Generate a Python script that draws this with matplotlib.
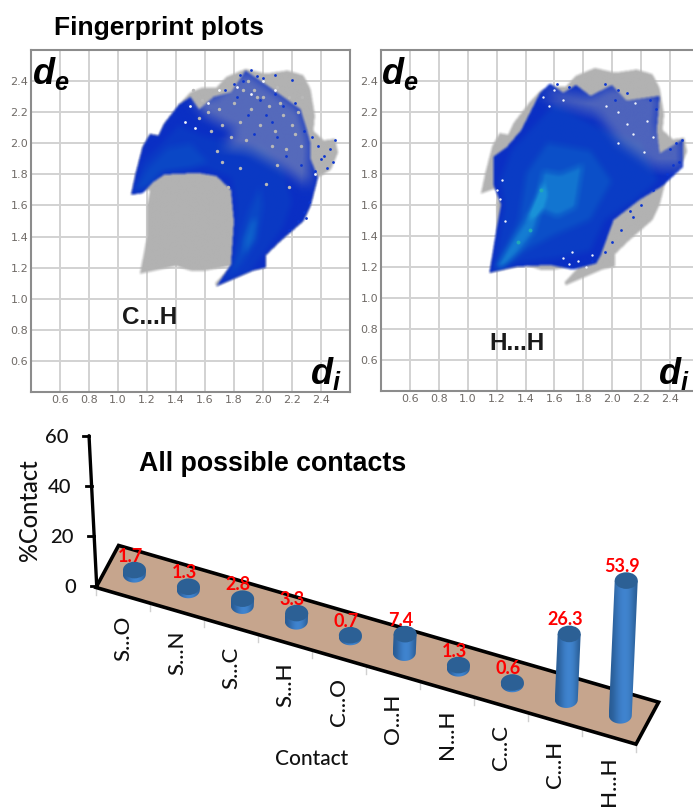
import numpy as np
import matplotlib
matplotlib.use('Agg')
from matplotlib import pyplot as plt
from matplotlib.colors import LinearSegmentedColormap, to_rgb
from matplotlib.path import Path
from matplotlib.patches import PathPatch, Ellipse, Polygon

# contact survey values
contacts = ['S...O', 'S...N', 'S...C', 'S...H', 'C...O', 'O...H', 'N...H', 'C...C', 'C...H', 'H...H']
percent = [1.7, 1.3, 2.8, 3.3, 0.7, 7.4, 1.3, 0.6, 26.3, 53.9]
percent_ticks = [0, 20, 40, 60]
fp_ticks = [0.6, 0.8, 1.0, 1.2, 1.4, 1.6, 1.8, 2.0, 2.2, 2.4]

# fingerprint regions as (di, de) outlines
full_x = [1.09, 1.12, 1.17, 1.22, 1.28, 1.32, 1.42, 1.50, 1.58, 1.68, 1.75, 1.88, 2.02, 2.17, 2.28, 2.33, 2.36, 2.35,
          2.42, 2.50, 2.52, 2.47, 2.38, 2.33, 2.28, 2.12, 2.02, 2.02, 1.93, 1.78, 1.68, 1.67, 1.78, 1.60, 1.50, 1.40,
          1.15, 1.20, 1.20, 1.22, 1.18]
full_y = [1.67, 1.80, 1.98, 2.06, 2.05, 2.13, 2.25, 2.33, 2.36, 2.36, 2.43, 2.48, 2.45, 2.47, 2.44, 2.35, 2.18, 2.08,
          2.02, 2.03, 1.94, 1.83, 1.78, 1.60, 1.50, 1.37, 1.28, 1.20, 1.18, 1.12, 1.08, 1.10, 1.21, 1.18, 1.18, 1.21,
          1.16, 1.40, 1.60, 1.70, 1.70]

ch_x = [1.09, 1.12, 1.17, 1.22, 1.28, 1.32, 1.42, 1.50, 1.56, 1.66, 1.78, 1.88, 2.02, 2.14, 2.26, 2.30, 2.33, 2.33, 2.38,
        2.33, 2.28, 2.12, 2.02, 2.02, 1.93, 1.78, 1.68, 1.78, 1.80, 1.78, 1.68, 1.55, 1.32, 1.24, 1.17]
ch_y = [1.67, 1.80, 1.98, 2.06, 2.05, 2.13, 2.25, 2.30, 2.22, 2.30, 2.33, 2.47, 2.38, 2.30, 2.22, 2.10, 2.00, 1.90, 1.78,
        1.60, 1.50, 1.37, 1.28, 1.20, 1.18, 1.12, 1.08, 1.22, 1.50, 1.70, 1.79, 1.81, 1.80, 1.75, 1.68]
ch_dense_x = [1.10, 1.17, 1.28, 1.42, 1.58, 1.80, 2.00, 2.14, 2.20, 2.14, 2.00, 1.90, 1.72, 1.80, 1.82, 1.78, 1.60, 1.32, 1.22]
ch_dense_y = [1.68, 1.88, 1.98, 2.12, 2.05, 2.00, 1.98, 1.85, 1.62, 1.46, 1.28, 1.16, 1.11, 1.25, 1.60, 1.78, 1.84, 1.82, 1.72]
ch_mid_x = [1.11, 1.20, 1.34, 1.50, 1.62, 1.50, 1.30, 1.20]
ch_mid_y = [1.69, 1.84, 1.97, 2.00, 1.88, 1.84, 1.81, 1.72]
ch_leg_x = [1.70, 1.85, 1.96, 2.00, 1.98, 1.90, 1.84, 1.78]
ch_leg_y = [1.10, 1.22, 1.38, 1.60, 1.72, 1.56, 1.36, 1.18]
ch_hot_x = [1.87, 1.94, 1.96, 1.92, 1.87]
ch_hot_y = [1.28, 1.38, 1.52, 1.50, 1.38]
ch_loose_x = [1.50, 1.66, 1.88, 2.02, 2.26, 2.33, 2.32, 2.14, 1.90, 1.72, 1.82, 1.60]
ch_loose_y = [2.30, 2.30, 2.47, 2.38, 2.22, 2.00, 1.72, 1.84, 1.96, 1.98, 2.08, 2.18]

hh_x = [1.15, 1.20, 1.23, 1.18, 1.18, 1.27, 1.37, 1.43, 1.50, 1.57, 1.66, 1.75, 1.85, 2.00, 2.10, 2.33, 2.31, 2.33,
        2.49, 2.49, 2.35, 2.19, 2.01, 1.92, 1.89, 1.73, 1.57, 1.34]
hh_y = [1.16, 1.45, 1.60, 1.72, 1.91, 1.97, 2.08, 2.19, 2.32, 2.38, 2.32, 2.37, 2.30, 2.37, 2.27, 2.30, 2.08, 1.93,
        2.02, 1.84, 1.72, 1.63, 1.50, 1.27, 1.22, 1.18, 1.21, 1.20]
hh_dense_x = [1.18, 1.25, 1.22, 1.30, 1.45, 1.60, 1.90, 2.20, 2.32, 2.15, 1.95, 1.85, 1.60, 1.35]
hh_dense_y = [1.18, 1.60, 1.75, 1.95, 2.10, 2.25, 2.10, 2.00, 1.75, 1.62, 1.50, 1.30, 1.25, 1.22]
hh_mid_x = [1.19, 1.35, 1.40, 1.55, 1.85, 2.00, 1.85, 1.60, 1.40, 1.25]
hh_mid_y = [1.19, 1.50, 1.80, 2.00, 1.95, 1.75, 1.50, 1.40, 1.30, 1.20]
hh_hot_x = [1.40, 1.48, 1.52, 1.64, 1.80, 1.75, 1.62, 1.52]
hh_hot_y = [1.50, 1.66, 1.82, 1.80, 1.86, 1.58, 1.52, 1.56]
hh_ridge_x = [1.19, 1.30, 1.44, 1.52, 1.54, 1.46, 1.34, 1.24]
hh_ridge_y = [1.19, 1.36, 1.56, 1.74, 1.66, 1.42, 1.28, 1.18]
hh_loose_x = [1.50, 1.66, 1.85, 2.00, 2.33, 2.31, 2.49, 2.49, 2.30, 2.05, 1.90, 1.60]
hh_loose_y = [2.32, 2.32, 2.30, 2.37, 2.30, 2.08, 2.02, 1.84, 1.84, 2.00, 2.18, 2.26]

# stray dots at the loose edges
ch_gray_x = [1.52, 1.58, 1.62, 1.72, 1.80, 1.86, 1.92, 1.98, 2.04, 2.08, 2.14, 2.18, 2.24, 2.22, 2.16, 2.10, 2.06, 1.96, 1.90, 1.72, 1.76, 1.68,
             1.70, 1.78, 1.84, 1.88, 1.94, 2.00, 2.12, 2.20, 2.27, 1.64, 1.56, 1.84, 2.02, 2.10, 2.18, 2.26]
ch_gray_y = [2.34, 2.28, 2.20, 2.12, 2.26, 2.34, 2.22, 2.12, 2.24, 2.08, 2.18, 2.30, 2.20, 2.06, 1.96, 2.36, 1.98, 2.30, 2.40, 1.88, 1.72, 1.95,
             2.22, 2.04, 2.14, 2.02, 2.34, 2.30, 2.26, 2.12, 2.30, 2.08, 2.16, 1.84, 1.74, 1.86, 1.72, 1.98]
ch_white_x = [1.46, 1.50, 1.53, 1.62, 1.70, 1.82, 1.92, 2.00, 2.08, 2.36]
ch_white_y = [2.14, 2.24, 2.10, 2.26, 2.34, 2.36, 2.32, 2.40, 2.34, 1.80]
ch_blue_x = [2.38, 2.42, 2.46, 2.50, 2.48, 2.44, 2.40, 2.36, 2.32, 2.30, 1.84, 1.92, 2.00, 2.08, 2.20, 2.34, 2.28, 2.24, 2.18, 1.80, 1.96,
             1.74, 1.82, 1.90, 1.98, 2.06, 2.14, 2.22, 2.28, 2.10, 2.02, 1.86, 1.94, 2.16, 2.26, 2.08]
ch_blue_y = [1.98, 1.92, 1.96, 2.02, 1.88, 1.84, 1.90, 1.82, 1.62, 1.52, 2.44, 2.47, 2.42, 2.44, 2.41, 2.04, 1.56, 1.50, 1.44, 2.38, 2.43,
             2.34, 2.30, 2.18, 2.28, 2.14, 2.24, 2.26, 2.08, 2.04, 2.18, 2.40, 2.06, 1.92, 1.86, 2.32]
hh_blue_x = [2.40, 2.44, 2.48, 2.46, 2.42, 2.38, 1.62, 1.70, 2.04, 1.95, 2.26, 2.30, 2.14, 2.06, 2.00, 1.95, 2.20, 2.12, 2.28, 2.10, 2.02, 1.86]
hh_blue_y = [1.96, 2.00, 2.02, 1.88, 1.86, 1.80, 2.38, 2.36, 2.34, 2.38, 2.28, 2.22, 1.52, 1.44, 1.36, 1.30, 1.60, 1.56, 1.70, 2.32, 2.28, 1.24]
hh_white_x = [1.24, 1.20, 1.22, 1.26, 1.52, 1.56, 1.60, 1.66, 1.70, 1.76, 1.82, 1.86, 1.72, 1.66, 1.96, 2.04, 2.10, 2.16, 2.24, 2.28, 2.22, 2.14, 2.04]
hh_white_y = [1.76, 1.70, 1.64, 1.50, 2.30, 2.24, 2.34, 2.28, 1.22, 1.24, 1.20, 1.28, 1.30, 1.26, 2.24, 2.20, 2.12, 2.26, 2.14, 2.04, 1.94, 2.06, 2.00]
hh_teal_x = [1.51, 1.43, 1.35]
hh_teal_y = [1.70, 1.44, 1.36]

W, H = 693, 807
fig = plt.figure(figsize=(W / 100, H / 100), dpi=100, facecolor='white')
plt.rcParams['mathtext.fontset'] = 'custom'
plt.rcParams['mathtext.bfit'] = 'Liberation Sans:italic:bold'
plt.rcParams['mathtext.default'] = 'bfit'

gx, gy = np.meshgrid(np.linspace(0.4, 2.6, 500), np.linspace(0.4, 2.6, 500))
grid_pts = np.c_[gx.ravel(), gy.ravel()]
blues = LinearSegmentedColormap.from_list('blues', ['#0a2fc4', '#0a45c6', '#0e62cc', '#1a92d8'])


def soften(a, n):
    k = np.ones(n) / n
    a = np.apply_along_axis(np.convolve, 0, a, k, mode='same')
    return np.apply_along_axis(np.convolve, 1, a, k, mode='same')


def region(xs, ys):
    return Path(np.c_[xs, ys]).contains_points(grid_pts).reshape(gx.shape).astype(float)


def show_rgba(ax, rgb, alpha, zorder):
    img = np.dstack([rgb, alpha])
    ax.imshow(img, extent=[0.4, 2.6, 0.4, 2.6], origin='lower', aspect='auto', zorder=zorder, interpolation='bilinear')


def show_fingerprint(ax, outline, layers, loose, thin):
    gray = np.ones(gx.shape + (3,)) * np.array(to_rgb('#b2b2b2'))
    show_rgba(ax, gray, soften(region(full_x, full_y), 5), 2)
    level = np.zeros(gx.shape)
    for (xs, ys), w in layers:
        level += w * soften(region(xs, ys), 13)
    alpha = soften(region(*outline), 5) * (1 - thin * soften(region(*loose), 25))
    show_rgba(ax, blues(level)[:, :, :3], alpha, 3)


def panel_axes(left, right, top, bottom):
    ax = fig.add_axes([left / W, 1 - bottom / H, (right - left) / W, (bottom - top) / H])
    ax.set_xlim(0.4, 2.6)
    ax.set_ylim(0.4, 2.6)
    ax.set_xticks(fp_ticks)
    ax.set_yticks(fp_ticks)
    ax.set_xticklabels(['%.1f' % t for t in fp_ticks])
    ax.set_yticklabels(['%.1f' % t for t in fp_ticks])
    ax.tick_params(length=0, labelsize=8, labelcolor='#6f6a66', pad=2)
    ax.grid(color='#d2d2d2', lw=1.4)
    ax.set_axisbelow(True)
    for s in ax.spines.values():
        s.set_color('#8c8c8c')
        s.set_linewidth(1.5)
    return ax


ax1 = panel_axes(31, 350, 50, 392)
show_fingerprint(ax1, (ch_x, ch_y),
                 [((ch_dense_x, ch_dense_y), 0.16), ((ch_mid_x, ch_mid_y), 0.2), ((ch_leg_x, ch_leg_y), 0.2),
                  ((ch_hot_x, ch_hot_y), 0.3)],
                 (ch_loose_x, ch_loose_y), 0.45)
ax1.scatter(ch_gray_x, ch_gray_y, s=6, color='#b8b8b8', lw=0, zorder=6)
ax1.scatter(ch_white_x, ch_white_y, s=4, color='#f4f6fc', lw=0, zorder=6)
ax1.scatter(ch_blue_x, ch_blue_y, s=4, color='#0c36d0', lw=0, zorder=6)

ax2 = panel_axes(381, 699, 50, 391)
show_fingerprint(ax2, (hh_x, hh_y),
                 [((hh_dense_x, hh_dense_y), 0.2), ((hh_mid_x, hh_mid_y), 0.25), ((hh_hot_x, hh_hot_y), 0.35),
                  ((hh_ridge_x, hh_ridge_y), 0.4)],
                 (hh_loose_x, hh_loose_y), 0.4)
ax2.scatter(hh_white_x, hh_white_y, s=3, color='#eef2fb', lw=0, zorder=6)
ax2.scatter(hh_blue_x, hh_blue_y, s=4, color='#0c36d0', lw=0, zorder=6)
ax2.scatter(hh_teal_x, hh_teal_y, s=8, color='#20a8b8', lw=0, zorder=6)

# overlay in picture pixels for the slanted bar chart and the labels
ov = fig.add_axes([0, 0, 1, 1], facecolor='none')
ov.set_axis_off()


def bar_base(i):
    return 134.3 + 54.0 * i, 574.3 + 15.67 * i


def floor_pt(i, d):
    x, y = bar_base(i)
    return x + 22.6 * d, y - 42 * d


def axis_pt(v):
    return 96.7 - 0.128 * v, 585.7 - 2.5 * v


ov.add_patch(Polygon([floor_pt(-0.5, -0.5), floor_pt(-0.5, 0.5), floor_pt(9.5, 0.5), floor_pt(9.5, -0.5)],
                     closed=True, fc='#c6a58d', ec='black', lw=2.6, joinstyle='miter', zorder=2))
for i in range(-1, 10):
    x, y = floor_pt(i + 0.5, -0.5)
    ov.plot([x, x], [y + 2, y + 8], color='#d0d0d0', lw=1, zorder=1)
    if i >= 0:
        lx, ly = bar_base(i)
        ov.text(lx - 11.5, ly + 41, contacts[i], rotation=90, ha='center', va='top',
                fontsize=16, family='Lato', weight='medium', color='#111111', zorder=5)

# y axis
x0, y0 = axis_pt(0)
x1, y1 = axis_pt(60)
ov.plot([x0, x1], [y0, y1], color='black', lw=2.4, zorder=3, solid_capstyle='round')
for v in percent_ticks:
    tx, ty = axis_pt(v)
    ov.plot([tx - 6, tx], [ty, ty], color='black', lw=2, zorder=3)
    ov.text(tx - 20.5, ty + 2, str(v), ha='right', va='center', fontsize=14.5, family='Lato', weight='medium', color='#111111')

# bars
grad_cols = [[0.16, 0.36, 0.58], [0.22, 0.47, 0.75], [0.26, 0.53, 0.83], [0.24, 0.50, 0.78], [0.16, 0.36, 0.58]]
grad = np.array([grad_cols])
rx, ry = 11.5, 8.3
t_low = np.linspace(np.pi, 0, 24)
for i, v in enumerate(percent):
    bx, by = bar_base(i)
    h = 2.5 * v
    tx, ty = bx + 0.044 * h, by - h
    pts = [(tx - rx, ty)] + [(bx + rx * np.cos(a), by + ry * np.sin(a)) for a in t_low] + [(tx + rx, ty)]
    body = PathPatch(Path(pts + [pts[0]]), fc='none', ec='none', zorder=4)
    ov.add_patch(body)
    im = ov.imshow(grad, extent=[bx - rx, tx + rx + 1, by + ry + 1, ty - 1], aspect='auto', interpolation='bicubic', zorder=4)
    im.set_clip_path(body)
    ov.add_patch(Ellipse((tx, ty), 2 * rx, 2 * ry, fc='#2c6095', ec='none', zorder=5))
    ov.text(tx - 4.5, ty - 14, '%.1f' % v, ha='center', va='center', fontsize=13, family='Lato', weight='bold',
            color='#ff0000', zorder=6)

ov.set_xlim(0, W)
ov.set_ylim(H, 0)

ov.text(159, 28, 'Fingerprint plots', ha='center', va='center', fontsize=19, weight='bold', family='Liberation Sans')
ov.text(273, 464, 'All possible contacts', ha='center', va='center', fontsize=19.3, weight='bold', family='Liberation Sans')
ov.text(150, 318, 'C...H', ha='center', va='center', fontsize=17.5, weight='bold', family='Liberation Sans', color='#1a1a1a')
ov.text(517, 343, 'H...H', ha='center', va='center', fontsize=17.5, weight='bold', family='Liberation Sans', color='#1a1a1a')
ov.text(30, 510, '%Contact', rotation=90, ha='center', va='center', fontsize=17, family='Lato', weight='medium', color='#111111')
ov.text(312, 759, 'Contact', ha='center', va='center', fontsize=15, family='Lato', weight='medium', color='#111111')

ov.text(51, 73, r'$d_e$', ha='center', va='center', fontsize=26)
ov.text(400, 73, r'$d_e$', ha='center', va='center', fontsize=26)
ov.text(326, 374, r'$d_i$', ha='center', va='center', fontsize=26)
ov.text(674, 373, r'$d_i$', ha='center', va='center', fontsize=26)

fig.savefig('out.png', dpi=100)
